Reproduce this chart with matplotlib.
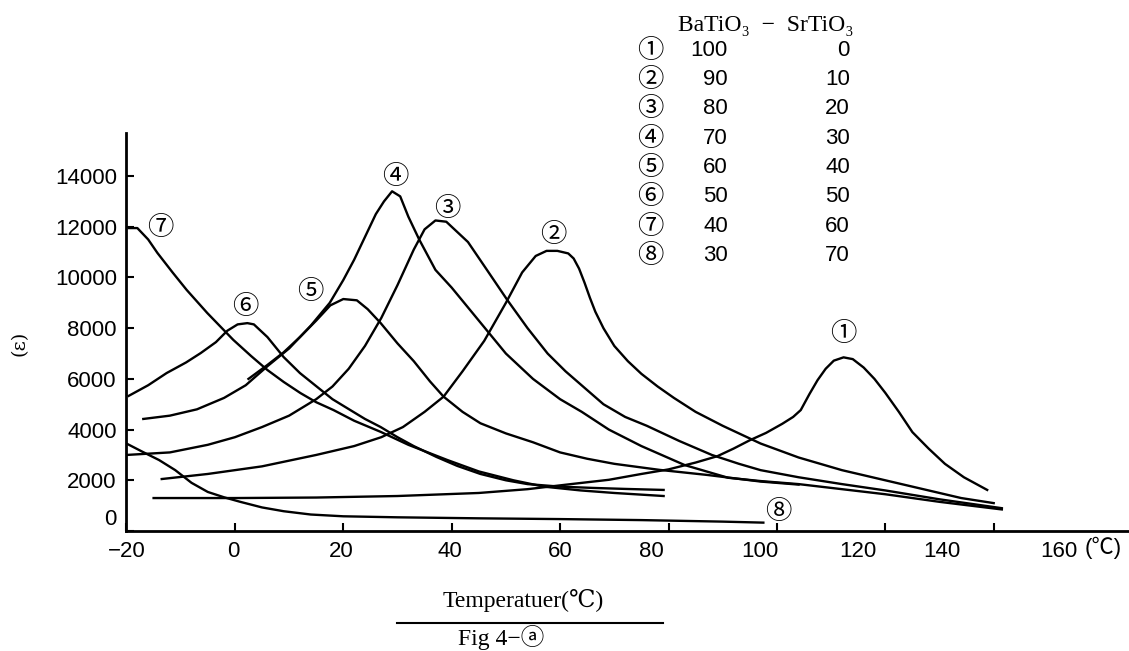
import matplotlib
matplotlib.use('Agg')
import matplotlib.pyplot as plt
from matplotlib.lines import Line2D

plt.rcParams['font.family'] = ['Liberation Sans', 'Noto Sans CJK JP', 'DejaVu Sans']

# BaTiO3 - SrTiO3 dielectric constant vs temperature
t1 = [-15, 0, 15, 30, 45, 54, 62, 69, 75, 80, 85, 89, 92, 95, 98, 101, 103, 104.4, 106, 107.5,
      109, 110.5, 112.3, 114, 116, 118, 120, 122.5, 125, 128, 131, 134.5, 138.8]
e1 = [1300, 1300, 1320, 1380, 1500, 1650, 1850, 2020, 2250, 2430, 2700, 2950, 3250, 3580, 3870,
      4230, 4500, 4770, 5400, 5950, 6400, 6720, 6850, 6780, 6450, 6000, 5450, 4700, 3900, 3250,
      2650, 2120, 1620]

t2 = [-13.5, -5, 5, 15, 22, 27, 31, 35, 38.5, 42, 46, 50, 53, 55.5, 57.5, 59.5, 61.5, 62.5, 63.5,
      64.5, 65.5, 66.5, 68, 70, 72.5, 75, 78, 81, 85, 90, 97, 104, 112, 120, 128, 134, 140]
e2 = [2050, 2250, 2550, 3000, 3350, 3700, 4100, 4700, 5300, 6300, 7500, 9000, 10200, 10850, 11050,
      11050, 10950, 10750, 10350, 9800, 9200, 8650, 8000, 7300, 6700, 6200, 5700, 5250, 4700, 4150,
      3450, 2900, 2400, 2000, 1600, 1300, 1100]

t3 = [-20, -12, -5, 0, 5, 10, 15, 18, 21, 24, 27, 30, 33, 35, 37, 39, 41, 43, 46.5, 50.3, 54,
      57.7, 61, 64.5, 68, 72, 76, 82, 88, 93, 97, 104, 112, 120, 130, 141.5]
e3 = [3000, 3100, 3400, 3700, 4100, 4550, 5200, 5700, 6400, 7300, 8400, 9700, 11100, 11900, 12250,
      12200, 11800, 11400, 10300, 9100, 8000, 7000, 6300, 5650, 5000, 4500, 4150, 3550, 3000, 2650,
      2400, 2120, 1850, 1600, 1250, 900]

t4 = [-16.9, -12, -7, -2, 2, 6, 10, 14, 17.5, 20, 22, 24, 26, 27.5, 29, 30.5, 32, 34, 37, 40, 45,
      50, 55, 60, 64, 69, 75, 83, 91, 97, 104, 112, 120, 130, 141.5]
e4 = [4420, 4550, 4800, 5250, 5750, 6500, 7200, 8100, 9000, 9900, 10700, 11600, 12500, 13000, 13400,
      13200, 12400, 11500, 10300, 9600, 8300, 7000, 6000, 5200, 4700, 4000, 3350, 2600, 2100, 1970,
      1850, 1650, 1450, 1150, 850]

t5 = [2.5, 6, 9, 12, 15, 17.6, 20, 22.5, 24.5, 26.9, 30, 33, 36, 38.5, 42, 45.3, 50, 55, 60, 65,
      70, 78.4, 87.2, 97, 104]
e5 = [6000, 6550, 7050, 7650, 8300, 8900, 9150, 9100, 8750, 8200, 7400, 6700, 5900, 5300, 4700,
      4250, 3850, 3500, 3100, 2850, 2650, 2410, 2210, 1950, 1830]

t6 = [-19.6, -16, -12.6, -9, -6.3, -3.5, -1.4, 0.5, 2.3, 3.5, 6, 9, 12, 15.2, 18, 21.3, 24, 26.9,
      30, 33, 37.2, 41, 45.3, 50, 54, 60, 66, 72, 79.1]
e6 = [5330, 5750, 6230, 6650, 7020, 7450, 7900, 8150, 8200, 8150, 7650, 6860, 6230, 5680, 5200,
      4770, 4420, 4100, 3700, 3350, 2920, 2570, 2250, 2000, 1850, 1750, 1700, 1660, 1620]

t7 = [-19.6, -18, -16, -14.3, -11.5, -8.9, -5.1, -0.3, 3, 6, 9, 12.1, 15, 18.2, 22, 26.9, 32,
      39.2, 45, 51.4, 57, 63.8, 70, 79.1]
e7 = [11950, 11950, 11500, 10970, 10200, 9510, 8600, 7540, 6900, 6350, 5880, 5440, 5080, 4770,
      4350, 3910, 3400, 2800, 2350, 2000, 1750, 1600, 1500, 1380]

t8 = [-20, -17, -14, -11, -8, -5, -2, 1, 5, 9, 14, 20, 30, 45, 60, 75, 90, 97.5]
e8 = [3450, 3120, 2800, 2400, 1900, 1540, 1330, 1150, 930, 780, 650, 580, 540, 500, 470, 430, 370, 330]

curves = [(t1, e1), (t2, e2), (t3, e3), (t4, e4), (t5, e5), (t6, e6), (t7, e7), (t8, e8)]
marks = ['①', '②', '③', '④', '⑤', '⑥', '⑦', '⑧']
ba_pct = [100, 90, 80, 70, 60, 50, 40, 30]
sr_pct = [0, 10, 20, 30, 40, 50, 60, 70]

# where the circled numbers sit next to each curve
mark_xy = [(112.2, 7810), (58.7, 11680), (39.1, 12740), (29.5, 13970),
           (13.9, 9430), (1.9, 8840), (-13.8, 11990), (100.2, 750)]

x_ticks = [-20, 0, 20, 40, 60, 80, 100, 120, 140]
x_label_pos = [-20, -0.3, 19.6, 39.7, 60, 76.8, 96.8, 115, 130.5, 152]
x_labels = ['−20', '0', '20', '40', '60', '80', '100', '120', '140', '160']
y_ticks = [0, 2000, 4000, 6000, 8000, 10000, 12000, 14000]
y_label_pos = [550, 2000, 4000, 6000, 8000, 10000, 12000, 14000]

W, H = 1129, 651
fig = plt.figure(figsize=(W / 100, H / 100), dpi=100)
ax = fig.add_axes([126.5 / W, 120 / H, 1 - 126.5 / W, 398 / H])

for t, e in curves:
    ax.plot(t, e, color='black', lw=1.7)

for m, (x, y) in zip(marks, mark_xy):
    ax.text(x, y, m, ha='center', va='center', fontsize=19,
            family=['Noto Sans CJK JP', 'DejaVu Sans'])

ax.set_xlim(-20, -20 + (W - 126.5) / 5.42)
ax.set_ylim(0, 15700)

ax.spines['top'].set_visible(False)
ax.spines['right'].set_visible(False)
ax.spines['left'].set_linewidth(2)
ax.spines['bottom'].set_linewidth(2)

# tick marks and labels are slightly out of register in the print
ax.xaxis.remove_overlapping_locs = False
ax.yaxis.remove_overlapping_locs = False
ax.set_xticks(x_ticks, [''] * len(x_ticks))
ax.set_xticks(x_label_pos, x_labels, minor=True)
ax.set_yticks(y_ticks, [''] * len(y_ticks))
ax.set_yticks(y_label_pos, [str(v) for v in y_ticks], minor=True)
ax.tick_params(which='major', direction='in', length=6, width=1.5)
ax.tick_params(which='minor', length=0, labelsize=16, pad=7)

fig.text(1103 / W, 1 - 548 / H, '(℃)', ha='center', va='center', fontsize=16,
         family=['Liberation Sans', 'Noto Sans CJK JP'])
fig.text(20 / W, 1 - 343 / H, '(ε)', ha='center', va='center', rotation=90, fontsize=14,
         family=['DejaVu Serif'])

# composition table
serif = ['Liberation Serif', 'DejaVu Serif', 'Noto Sans CJK JP']
fig.text(678 / W, 1 - 25 / H, 'BaTiO₃  −  SrTiO₃', ha='left', va='center', fontsize=17,
         family=serif)
for i, (m, b, s) in enumerate(zip(marks, ba_pct, sr_pct)):
    yy = 1 - (50 + 29.4 * i) / H
    fig.text(650 / W, yy, m, ha='center', va='center', fontsize=19,
             family=['Noto Sans CJK JP', 'DejaVu Sans'])
    fig.text(728 / W, yy, str(b), ha='right', va='center', fontsize=16)
    fig.text(850 / W, yy, str(s), ha='right', va='center', fontsize=16)

fig.text(523 / W, 1 - 600 / H, 'Temperatuer(℃)', ha='center', va='center', fontsize=17,
         family=serif)
fig.add_artist(Line2D([397 / W, 663 / W], [1 - 623 / H, 1 - 623 / H], color='black', lw=1.5))
fig.text(501 / W, 1 - 637 / H, 'Fig 4−ⓐ', ha='center', va='center', fontsize=17, family=serif)

fig.savefig('out.png', dpi=100)
